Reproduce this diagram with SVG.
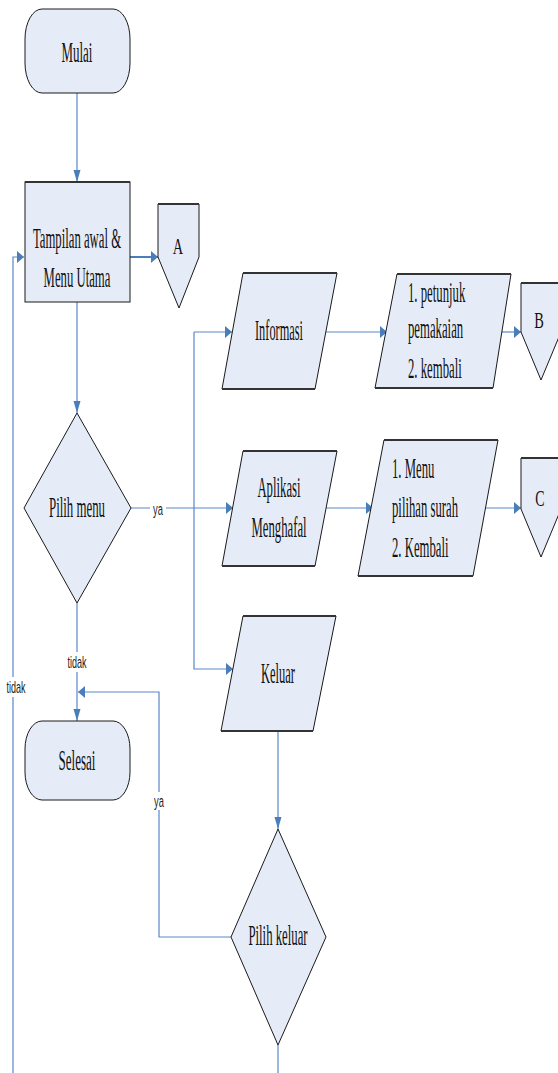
<svg xmlns="http://www.w3.org/2000/svg" width="558" height="1073" viewBox="0 0 558 1073">
<style>
.shape{fill:#e6ecf7;stroke:#1a1a1a;stroke-width:1}
.edge{stroke:#333;stroke-width:2}
.t{font-family:"Liberation Serif","Times New Roman",serif;font-size:30px;fill:#111}
.tm{text-anchor:middle}
.big{font-size:24px}
.lbl{font-family:"Liberation Sans",Arial,sans-serif;font-size:17px;fill:#222;text-anchor:middle}
.c{fill:none;stroke:#5b87c8;stroke-width:1.2}
.c2{fill:none;stroke:#4a7ebb;stroke-width:2}
</style>
<defs>
<marker id="ad" markerUnits="userSpaceOnUse" markerWidth="12" markerHeight="8" refX="12" refY="3.5" orient="auto">
<path d="M0,0 L12,3.5 L0,7 z" fill="#4a7ebb"/>
</marker>
<marker id="ah" markerUnits="userSpaceOnUse" markerWidth="8" markerHeight="12" refX="7" refY="6" orient="auto">
<path d="M0,0 L7,6 L0,12 z" fill="#4a7ebb"/>
</marker>
</defs>
<rect width="558" height="1073" fill="#fff"/>

<g id="connectors">
<line class="c" x1="77" y1="93" x2="77" y2="182" marker-end="url(#ad)"/>
<line class="c2" x1="130" y1="257" x2="158" y2="257" marker-end="url(#ah)"/>
<line class="c" x1="77" y1="302" x2="77" y2="413" marker-end="url(#ad)"/>
<polyline class="c" points="13,1073 13,257 24,257" marker-end="url(#ah)"/>
<polyline class="c" points="131,508 233,508" marker-end="url(#ah)"/>
<polyline class="c" points="194,332 232,332" marker-end="url(#ah)"/>
<polyline class="c" points="194,332 194,669 233,669" marker-end="url(#ah)"/>
<line class="c" x1="326" y1="332" x2="387" y2="332" marker-end="url(#ah)"/>
<line class="c" x1="500" y1="332" x2="521" y2="332" marker-end="url(#ah)"/>
<line class="c" x1="326" y1="508" x2="373" y2="508" marker-end="url(#ah)"/>
<line class="c" x1="485" y1="508" x2="521" y2="508" marker-end="url(#ah)"/>
<line class="c" x1="77" y1="603" x2="77" y2="721" marker-end="url(#ad)"/>
<line class="c" x1="278" y1="731" x2="278" y2="829" marker-end="url(#ad)"/>
<polyline class="c" points="231,937 159,937 159,692 78,692" marker-end="url(#ah)"/>
<line class="c" x1="278" y1="1045" x2="278" y2="1073"/>
<rect x="150" y="502" width="16" height="16" fill="#fff"/>
<text class="lbl" transform="translate(158,515) scale(0.55,1)">ya</text>
<rect x="66" y="652" width="22" height="20" fill="#fff"/>
<text class="lbl" transform="translate(77,668) scale(0.53,1)">tidak</text>
<rect x="5" y="677" width="22" height="20" fill="#fff"/>
<text class="lbl" transform="translate(16,693) scale(0.53,1)">tidak</text>
<rect x="152" y="792" width="14" height="18" fill="#fff"/>
<text class="lbl" transform="translate(159,807) scale(0.55,1)">ya</text>
</g>

<g id="mulai">
<rect class="shape" x="25" y="9" width="105" height="84" rx="17" ry="30"/>
<text class="t tm" transform="translate(77,62) scale(0.432,1)">Mulai</text>
</g>

<g id="tampilan">
<rect class="shape" x="25" y="182" width="105" height="120"/>
<line class="edge" x1="25" y1="182" x2="130" y2="182"/>
<text class="t tm" transform="translate(77,248) scale(0.424,1)">Tampilan awal &amp;</text>
<text class="t tm" transform="translate(77,287) scale(0.425,1)">Menu Utama</text>
</g>

<g id="conA">
<polygon class="shape" points="158,204 199,204 199,257 179,308 158,257"/>
<line class="edge" x1="158" y1="204" x2="199" y2="204"/>
<text class="t tm big" transform="translate(178,254) scale(0.6,1)">A</text>
</g>

<g id="informasi">
<polygon class="shape" points="243,273 337,273 315,389 222,389"/>
<line class="edge" x1="243" y1="273" x2="337" y2="273"/>
<line class="edge" x1="222" y1="389" x2="315" y2="389"/>
<text class="t tm" transform="translate(279,340) scale(0.412,1)">Informasi</text>
</g>

<g id="petunjuk">
<polygon class="shape" points="397,274 511,274 493,388 375,388"/>
<line class="edge" x1="397" y1="274" x2="511" y2="274"/>
<line class="edge" x1="375" y1="388" x2="493" y2="388"/>
<text class="t" transform="translate(408,302) scale(0.425,1)">1. petunjuk</text>
<text class="t" transform="translate(408,338) scale(0.425,1)">pemakaian</text>
<text class="t" transform="translate(408,378) scale(0.425,1)">2. kembali</text>
</g>

<g id="conB">
<polygon class="shape" points="521,283 561,283 561,332 541,380 521,332"/>
<line class="edge" x1="521" y1="283" x2="561" y2="283"/>
<text class="t tm big" transform="translate(539,328) scale(0.6,1)">B</text>
</g>

<g id="pilihmenu">
<polygon class="shape" points="77,413 131,508 77,603 24,508"/>
<text class="t tm" transform="translate(77,517) scale(0.428,1)">Pilih menu</text>
</g>

<g id="aplikasi">
<polygon class="shape" points="243,451 337,451 315,566 222,566"/>
<line class="edge" x1="243" y1="451" x2="337" y2="451"/>
<line class="edge" x1="222" y1="566" x2="315" y2="566"/>
<text class="t tm" transform="translate(279,497) scale(0.425,1)">Aplikasi</text>
<text class="t tm" transform="translate(279,537) scale(0.425,1)">Menghafal</text>
</g>

<g id="menusurah">
<polygon class="shape" points="384,440 498,440 473,576 358,576"/>
<line class="edge" x1="384" y1="440" x2="498" y2="440"/>
<line class="edge" x1="358" y1="576" x2="473" y2="576"/>
<text class="t" transform="translate(392,478) scale(0.425,1)">1. Menu</text>
<text class="t" transform="translate(392,517) scale(0.424,1)">pilihan surah</text>
<text class="t" transform="translate(392,557) scale(0.425,1)">2. Kembali</text>
</g>

<g id="conC">
<polygon class="shape" points="521,458 561,458 561,509 541,557 521,509"/>
<line class="edge" x1="521" y1="458" x2="561" y2="458"/>
<text class="t tm big" transform="translate(540,506) scale(0.58,1)">C</text>
</g>

<g id="keluar">
<polygon class="shape" points="243,616 336,616 313,731 221,731"/>
<line class="edge" x1="243" y1="616" x2="336" y2="616"/>
<line class="edge" x1="221" y1="731" x2="313" y2="731"/>
<text class="t tm" transform="translate(278,683) scale(0.417,1)">Keluar</text>
</g>

<g id="selesai">
<rect class="shape" x="25" y="721" width="105" height="79" rx="17" ry="28"/>
<text class="t tm" transform="translate(77,770) scale(0.435,1)">Selesai</text>
</g>

<g id="pilihkeluar">
<polygon class="shape" points="278,829 326,937 278,1045 231,937"/>
<text class="t tm" transform="translate(278,945) scale(0.425,1)">Pilih keluar</text>
</g>
</svg>
